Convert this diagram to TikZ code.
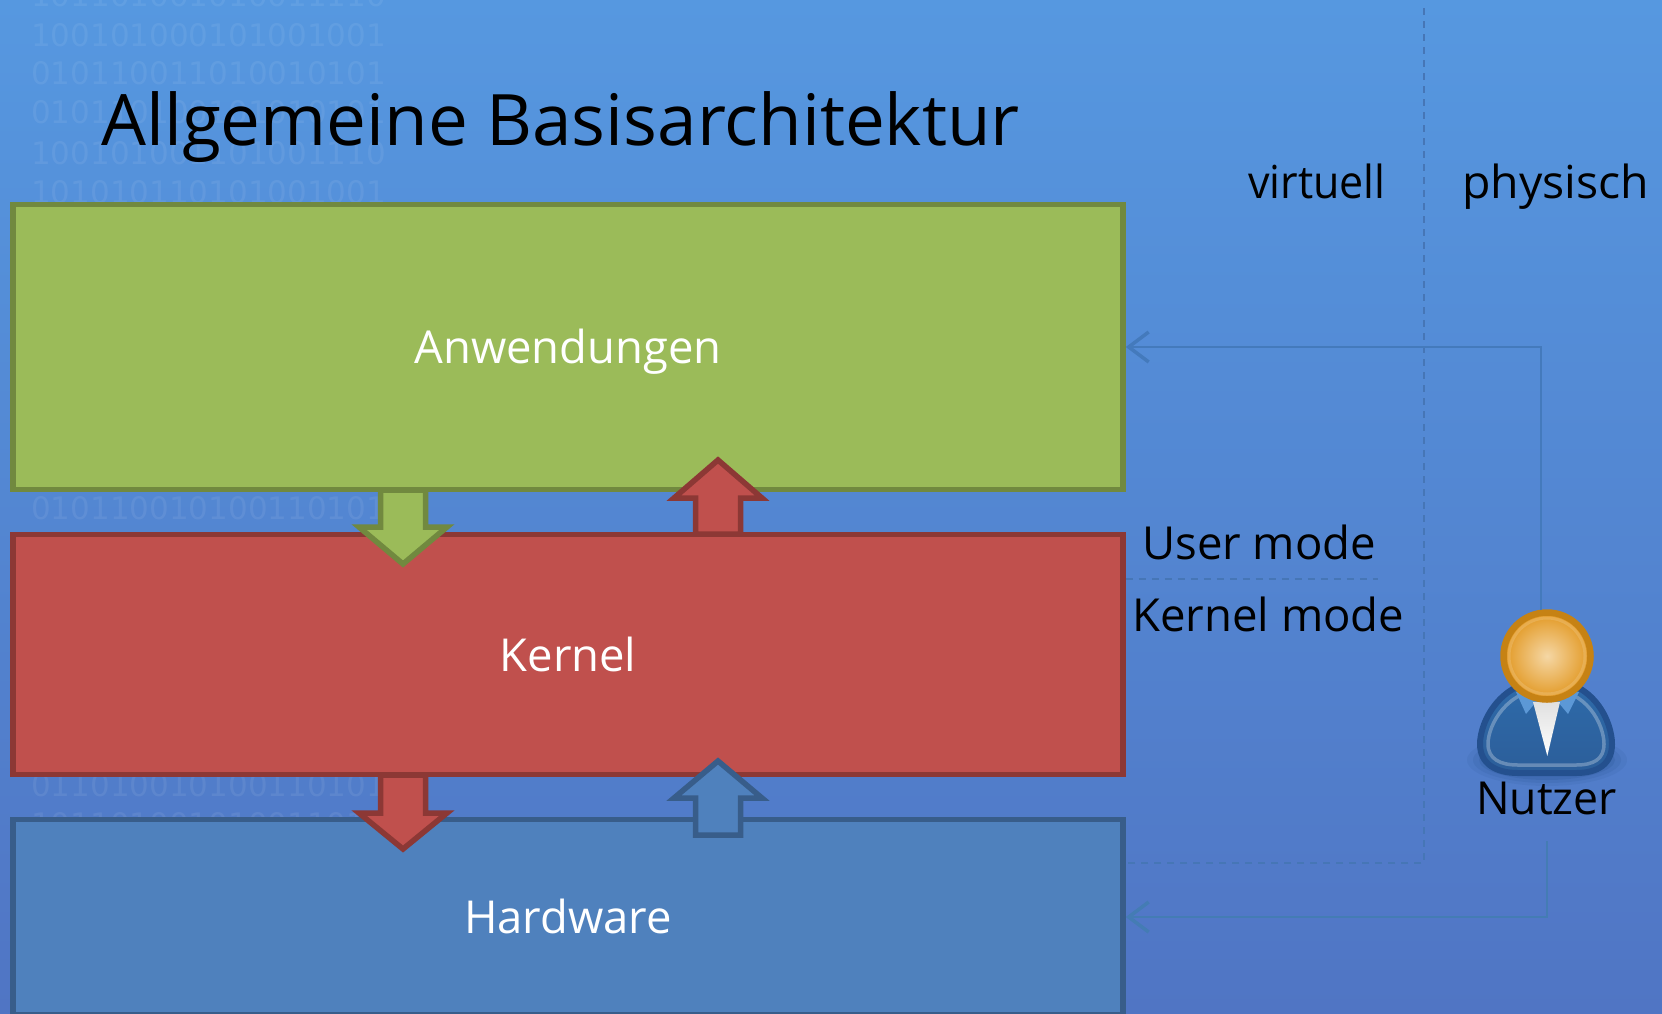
\documentclass[tikz,border=0pt]{standalone}
\usepackage{fontspec}
\setmainfont{Open Sans}
\newfontfamily\digitfont{DejaVu Sans}
\usetikzlibrary{arrows.meta,shapes.geometric}
\definecolor{bgtop}{RGB}{86,152,224}
\definecolor{bgbot}{RGB}{80,117,196}
\definecolor{gfill}{RGB}{155,187,89}
\definecolor{gline}{RGB}{113,137,63}
\definecolor{rfill}{RGB}{192,80,77}
\definecolor{rline}{RGB}{140,56,53}
\definecolor{bfill}{RGB}{79,129,189}
\definecolor{bline}{RGB}{56,93,138}
\definecolor{dashcol}{RGB}{70,118,182}
\definecolor{linkone}{RGB}{68,122,188}
\definecolor{linktwo}{RGB}{68,124,180}
\definecolor{bodytop}{RGB}{46,107,170}
\definecolor{bodybot}{RGB}{44,94,154}
\definecolor{bodyline}{RGB}{36,80,142}
\definecolor{headline}{RGB}{198,130,20}
\definecolor{headin}{RGB}{245,215,165}
\definecolor{headout}{RGB}{226,152,34}
\definecolor{collar}{RGB}{92,152,214}
\tikzset{
  box/.style={rectangle,draw,line width=5.5pt,minimum width=1110pt,text=white,
     inner sep=0pt,text height=33pt,text depth=0pt,font=\fontsize{45.4}{46}\selectfont},
  lab/.style={anchor=base west,inner sep=0pt,text=black,font=\fontsize{45.5}{46}\selectfont},
  digits/.style={anchor=base west,inner sep=0pt,text=white,text opacity=0.07,
     font=\digitfont\fontsize{31}{31}\selectfont},
  blockarrow/.style={draw,line width=5.5pt,line join=miter,miter limit=10},
  faintdash/.style={draw=dashcol,line width=1.8pt,dash pattern=on 7pt off 6pt},
  userlink/.style={line width=1.6pt,-{Straight Barb[length=20pt,width=30pt,line width=3.5pt]}},
}
\begin{document}
\begin{tikzpicture}[x=1pt,y=-1pt]
\useasboundingbox (0,0) rectangle (1662,1013);
\shade[top color=bgtop,bottom color=bgbot] (0,0) rectangle (1662,1013);
% binary backdrop
\foreach \yy/\txt in {6/101101001010011110,46/100101000101001001,84/010110011010010101,
   123/010110100101010101,164/100101001101001110,203/101010110101001001,
   519/010110010100110101,796/011010010100110101,835/101101001010011010}
  {\node[digits] at (31,\yy) {\txt};}
% boxes
\node[box,draw=gline,fill=gfill,minimum height=285pt] (anw) at (568,347) {Anwendungen};
\node[box,draw=rline,fill=rfill,minimum height=240pt] (ker) at (568,654.5) {Kernel};
\node[box,draw=bline,fill=bfill,minimum height=195pt] (hw) at (568,917) {Hardware};
% block arrows
\newcommand{\blockshaft}[6]{%
  \path[blockarrow,draw=#1,fill=#2] (#3-22.5,#4) -- (#3+22.5,#4) -- (#3+22.5,#5) -- (#3+44,#5)
     -- (#3,#6) -- (#3-44,#5) -- (#3-22.5,#5) -- cycle;}
\blockshaft{gline}{gfill}{403}{490}{527}{564}
\blockshaft{rline}{rfill}{718}{534}{498}{460}
\blockshaft{rline}{rfill}{403}{775}{813}{849}
\blockshaft{bline}{bfill}{718}{835}{798}{761}
% dividers
\coordinate (vtop) at (1424,8);
\coordinate (vbot) at (1424,863);
\coordinate (umk) at (1378,579);
\path[faintdash] (vtop) -- (vbot) -- (ker.east |- vbot);
\path[faintdash] (ker.east |- umk) -- (umk);
% person
\coordinate (user) at (1547,656);
\foreach \rx/\ry/\op in {80/26/.10,74/23/.14,68/20/.18}
  {\fill[bodyline,opacity=\op] (1547,760) ellipse ({\rx pt} and {\ry pt});}
\path[draw=bodyline,line width=6pt,top color=bodytop,bottom color=bodybot]
  (1547,680) .. controls (1500,680) and (1480,722) .. (1480,744)
  .. controls (1480,764) and (1496,773) .. (1518,773) -- (1576,773)
  .. controls (1598,773) and (1612,764) .. (1612,744)
  .. controls (1612,722) and (1594,680) .. (1547,680) -- cycle;
\path[draw=white,draw opacity=.28,line width=3.5pt]
  (1547,689) .. controls (1507,689) and (1488,725) .. (1488,744)
  .. controls (1488,759) and (1500,765) .. (1518,765) -- (1576,765)
  .. controls (1594,765) and (1604,759) .. (1604,744)
  .. controls (1604,725) and (1587,689) .. (1547,689) -- cycle;
\path[fill=collar] (1516,692) -- (1526,714) -- (1536,702) -- (1558,702) -- (1568,714) -- (1579,692) -- cycle;
\shade[top color=black!12,bottom color=white] (1533,702) -- (1560,702) -- (1547.3,756) -- cycle;
\node[circle,minimum size=87pt,inner sep=0pt,line width=6.5pt,draw=headline,
   shade,shading=radial,inner color=headin,outer color=headout] (userhead) at (user) {};
\draw[white,opacity=.15,line width=3pt] (user) circle (38pt);
% user links
\coordinate (ua) at (1541,610);
\coordinate (ub) at (1547,841);
\draw[userlink,draw=linkone] (ua) |- (anw.east);
\draw[userlink,draw=linktwo] (ub) |- (hw.east);
% labels
\node[anchor=base west,inner sep=0pt,font=\fontsize{71}{71}\selectfont] (title) at (101,145) {Allgemeine Basisarchitektur};
\node[lab] (virt) at (1248,198) {\scalebox{.945}[1]{virtuell}};
\node[lab] (phys) at (1462,198) {\scalebox{1.02}[1]{physisch}};
\node[lab] (um) at (1142,559) {User mode};
\node[lab] (km) at (1132,631) {Kernel mode};
\node[lab] (nut) at (1476,814) {\scalebox{.98}[1]{Nutzer}};
\end{tikzpicture}
\end{document}
